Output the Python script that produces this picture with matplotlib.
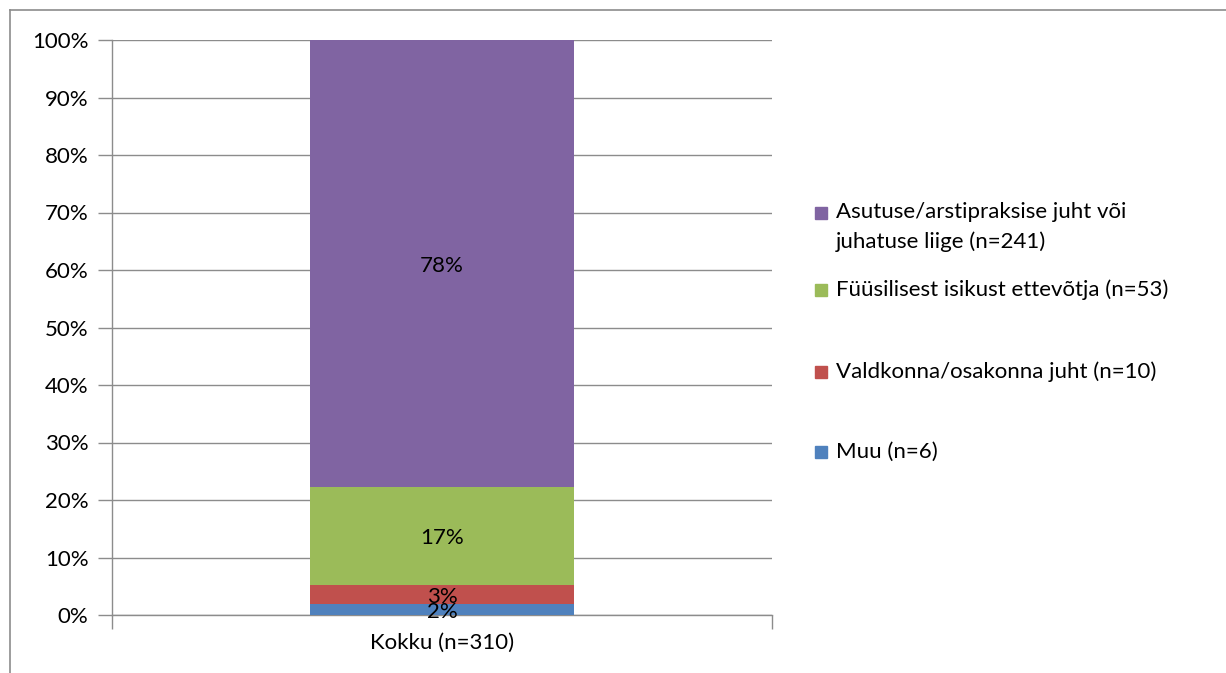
import matplotlib
matplotlib.use('Agg')
import matplotlib.pyplot as plt
from matplotlib.patches import Rectangle
from matplotlib.lines import Line2D
import numpy as np

plt.rcParams['font.family'] = ['Lato', 'DejaVu Sans']

category = 'Kokku (n=310)'
series = ['Muu (n=6)',
          'Valdkonna/osakonna juht (n=10)',
          'Füüsilisest isikust ettevõtja (n=53)',
          'Asutuse/arstipraksise juht või\njuhatuse liige (n=241)']
counts = [6, 10, 53, 241]
labels = ['2%', '3%', '17%', '78%']
colors = ['#4F81BD', '#C0504D', '#9BBB59', '#8064A2']

W, H = 1226, 673
fig = plt.figure(figsize=(W / 100, H / 100), dpi=100)
ax = fig.add_axes([112 / W, 1 - 615 / H, (772 - 112) / W, (615 - 40) / H])

grid_c = '#8c8c8c'
fs = 16

total = sum(counts)
shares = np.array(counts) / total * 100
bottom = 0
for s, lab, c in zip(shares, labels, colors):
    ax.bar(0, s, width=0.4, bottom=bottom, color=c, zorder=3)
    ax.text(0, bottom + s / 2 - 0.4, lab, ha='center', va='center', fontsize=fs, zorder=4)
    bottom += s

ax.set_xlim(-0.5, 0.5)
ax.set_ylim(0, 100)
ax.set_yticks(np.arange(0, 101, 10))
ax.set_yticklabels([f'{v}%' for v in range(0, 101, 10)], fontsize=fs)
ax.yaxis.grid(True, color=grid_c, linewidth=1, zorder=0)
ax.set_xticks([0])
ax.set_xticklabels([category], fontsize=fs)
ax.set_xticks([-0.5, 0.5], minor=True)
ax.tick_params(axis='x', which='major', length=0, pad=13)
ax.tick_params(axis='x', which='minor', length=10, color=grid_c, width=1)
ax.tick_params(axis='y', length=10, color=grid_c, width=1, pad=7)
for side in ['top', 'right']:
    ax.spines[side].set_visible(False)
for side in ['left', 'bottom']:
    ax.spines[side].set_color(grid_c)
    ax.spines[side].set_linewidth(1)

# legend drawn by hand to keep Excel-like spacing
leg_y = [213, 290, 372, 452]
leg_order = [3, 2, 1, 0]
for y, i in zip(leg_y, leg_order):
    fig.patches.append(Rectangle(((815) / W, 1 - (y + 6) / H), 12 / W, 12 / H,
                                 transform=fig.transFigure, color=colors[i]))
    va = 'top' if '\n' in series[i] else 'center'
    yy = y - 11 if va == 'top' else y
    fig.text(836 / W, 1 - yy / H, series[i], fontsize=fs, va=va, ha='left',
             linespacing=1.55)

# outer chart border
fig.add_artist(Line2D([10 / W, 10 / W], [0, 1 - 10 / H], color=grid_c, lw=1.2,
                      transform=fig.transFigure))
fig.add_artist(Line2D([10 / W, 1], [1 - 10 / H, 1 - 10 / H], color=grid_c, lw=1.2,
                      transform=fig.transFigure))

fig.savefig('out.png', dpi=100)
